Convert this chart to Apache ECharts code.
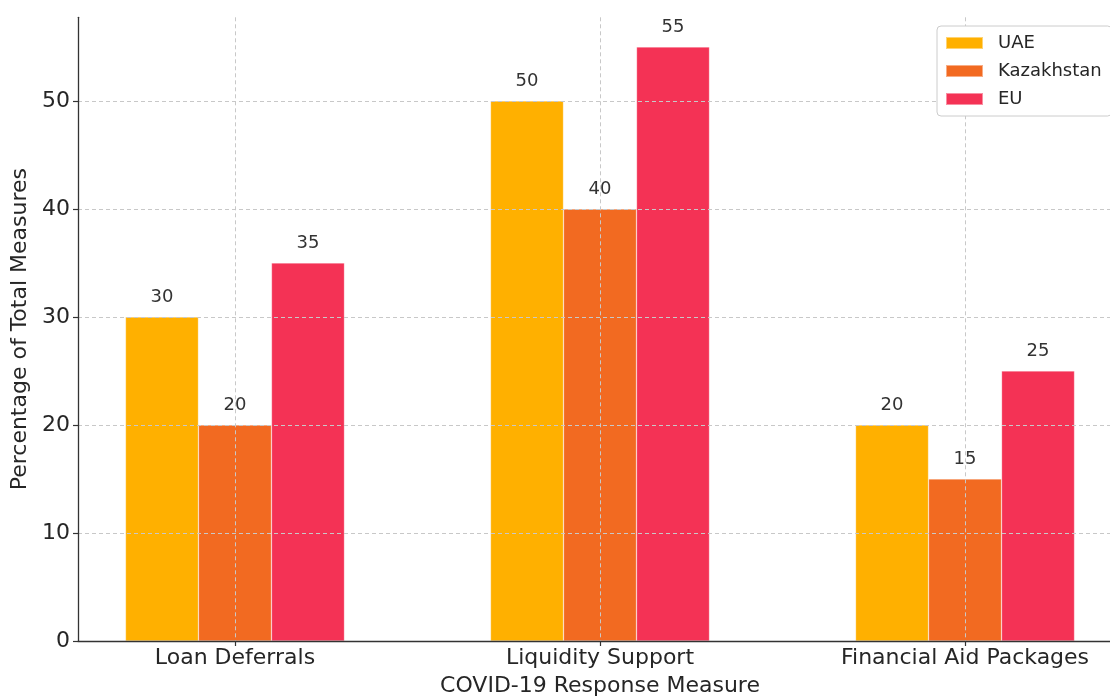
<!DOCTYPE html>
<html>
<head>
<meta charset="utf-8">
<script src="https://cdn.jsdelivr.net/npm/echarts@6/dist/echarts.min.js"></script>
<style>
  html, body { margin: 0; padding: 0; background: #fff; }
  #chart { width: 1110px; height: 697px; }
</style>
</head>
<body>
<div id="chart"></div>
<script>
// COVID-19 response measures, share of total measures (%)
const categories = ['Loan Deferrals', 'Liquidity Support', 'Financial Aid Packages'];
const uae = [30, 50, 20];
const kazakhstan = [20, 40, 15];
const eu = [35, 55, 25];
const yTicks = [0, 10, 20, 30, 40, 50];

const seriesNames = ['UAE', 'Kazakhstan', 'EU'];
const seriesColors = ['#FFB000', '#F26A21', '#F43255'];
const seriesValues = [uae, kazakhstan, eu];

const FONT = 'DejaVu Sans';
const TEXT = '#262626';
const GRID_LINE = { color: '#c8c8c8', width: 1, type: [4, 3] };

const chart = echarts.init(document.getElementById('chart'), null, { renderer: 'canvas' });

const series = seriesNames.map((name, s) => ({
  name,
  type: 'bar',
  data: categories.map((_, i) => [i, seriesValues[s][i]]),
  barWidth: '20%',
  barGap: '0%',
  itemStyle: { color: seriesColors[s], borderColor: 'rgba(255,255,255,0.45)', borderWidth: 0.6 },
  label: {
    show: true,
    position: 'top',
    distance: 11,
    color: '#333',
    fontFamily: FONT,
    fontSize: 18,
    formatter: p => String(p.value[1])
  }
}));

chart.setOption({
  animation: false,
  backgroundColor: '#fff',
  textStyle: { fontFamily: FONT },
  grid: { left: 78, top: 17.3, width: 1044, bottom: 56, containLabel: false, outerBoundsMode: 'none' },
  legend: {
    orient: 'vertical',
    left: 937,
    top: 26,
    z: 10,
    icon: 'rect',
    itemWidth: 37,
    itemHeight: 12,
    itemGap: 8,
    padding: [7, 10, 7, 8],
    backgroundColor: '#fff',
    borderColor: '#cccccc',
    borderWidth: 1,
    borderRadius: 4,
    textStyle: { color: TEXT, fontFamily: FONT, fontSize: 18, lineHeight: 20, padding: [0, 0, 0, 10] },
    data: seriesNames
  },
  xAxis: {
    type: 'value',
    min: -0.43,
    max: 2.43,
    z: 3,
    name: 'COVID-19 Response Measure',
    nameLocation: 'middle',
    nameGap: 34,
    nameTextStyle: { color: TEXT, fontFamily: FONT, fontSize: 22 },
    axisLine: { show: true, onZero: false, lineStyle: { color: '#333', width: 1.3 } },
    axisTick: { show: true, length: 5, customValues: [0, 1, 2], lineStyle: { color: '#333', width: 1.2 } },
    axisLabel: {
      customValues: [0, 1, 2],
      margin: 6,
      color: TEXT,
      fontFamily: FONT,
      fontSize: 22,
      formatter: v => categories[Math.round(v)] || ''
    },
    splitLine: { show: true, showMinLine: true, showMaxLine: true, lineStyle: GRID_LINE }
  },
  yAxis: {
    type: 'value',
    min: 0,
    max: 57.75,
    interval: 10,
    z: 3,
    name: 'Percentage of Total Measures',
    nameLocation: 'middle',
    nameRotate: 90,
    nameGap: 45,
    nameTextStyle: { color: TEXT, fontFamily: FONT, fontSize: 22 },
    axisLine: { show: true, onZero: false, lineStyle: { color: '#333', width: 1.3 } },
    axisTick: { show: true, length: 5, customValues: yTicks, lineStyle: { color: '#333', width: 1.2 } },
    axisLabel: {
      customValues: yTicks,
      margin: 8,
      color: TEXT,
      fontFamily: FONT,
      fontSize: 22,
      formatter: v => (yTicks.includes(v) ? String(v) : '')
    },
    splitLine: { show: true, showMinLine: false, showMaxLine: true, lineStyle: GRID_LINE }
  },
  series
});
</script>
</body>
</html>
